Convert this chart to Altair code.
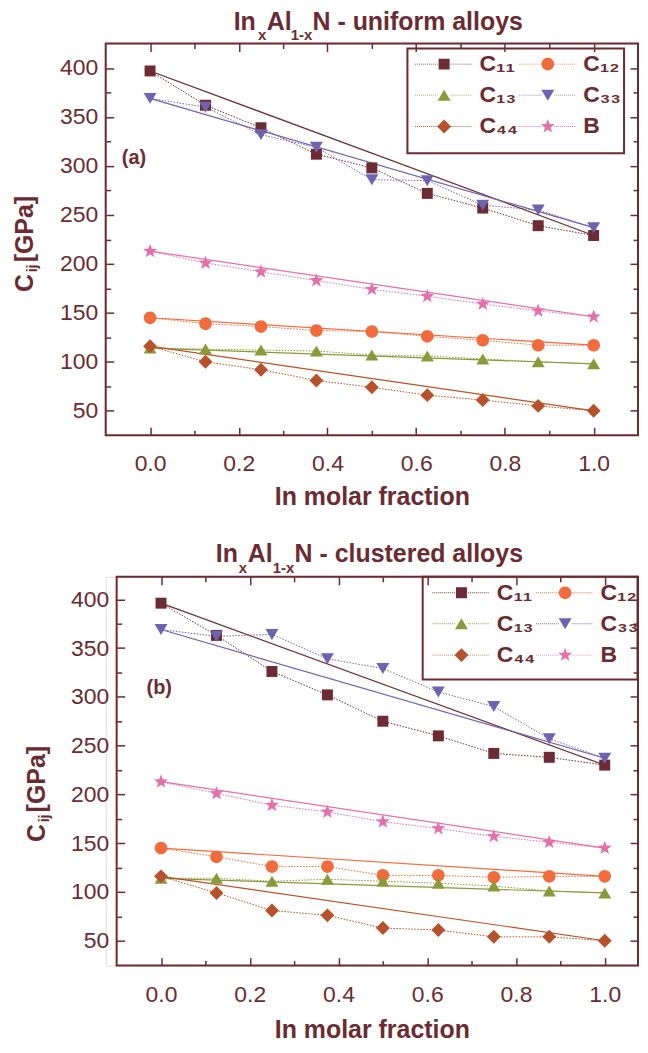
import math
import altair as alt
import pandas as pd

MAROON = "#6b2b32"
FONT = "Liberation Sans"

# ---------------- data ----------------
x_frac = [0.0, 0.125, 0.25, 0.375, 0.5, 0.625, 0.75, 0.875, 1.0]
series_labels = ["C₁₁", "C₁₂", "C₁₃", "C₃₃", "C₄₄", "B"]
series_colors = ["#6d2c33", "#f26b3d", "#8a9a3b", "#6e63b0", "#b6522b", "#e470a9"]

# (a) uniform alloys
u_C11 = [397, 362, 339, 312, 298, 272, 257, 239, 229]
u_C12 = [145, 139, 136, 132, 131, 126, 122, 117, 117]
u_C13 = [114, 113, 112, 111, 107, 106, 103, 100, 98]
u_C33 = [369, 360, 332, 319, 286, 285, 260, 255, 237]
u_C44 = [116, 100, 92, 81, 74, 66, 61, 55, 50]
u_B = [213, 201, 192, 183, 174, 167, 159, 152, 146]

# (b) clustered alloys
c_C11 = [396, 363, 326, 302, 275, 260, 242, 238, 230]
c_C12 = [145, 136, 126, 126, 117, 117, 115, 116, 116]
c_C13 = [114, 114, 111, 113, 111, 109, 106, 101, 99]
c_C33 = [369, 362, 364, 339, 329, 305, 290, 257, 237]
c_C44 = [116, 99, 81, 76, 63, 61, 54, 54, 50]
c_B = [213, 201, 189, 182, 172, 165, 157, 151, 145]

x_major = [0.0, 0.2, 0.4, 0.6, 0.8, 1.0]
x_minor = [0.1, 0.3, 0.5, 0.7, 0.9]
y_major = [50, 100, 150, 200, 250, 300, 350, 400]
y_minor = [75, 125, 175, 225, 275, 325, 375]

# axis frame ranges of the two panels
frame_a_x = [-0.1, 1.1]
frame_a_y = [25, 425]
frame_b_x = [-0.1, 1.075]
frame_b_y = [24.5, 423]


# ---------------- marker shapes ----------------
def poly(pts):
    return "M" + "L".join(f"{px:.3f},{py:.3f}" for px, py in pts) + "Z"


def star(R, r):
    pts = []
    for k in range(10):
        ang = math.radians(-90 + 36 * k)
        rad = R if k % 2 == 0 else r
        pts.append((rad * math.cos(ang), rad * math.sin(ang)))
    return poly(pts)


SQUARE = poly([(-1, -1), (1, -1), (1, 1), (-1, 1)])
CIRCLE = "M1.15,0A1.15,1.15,0,1,1,-1.15,0A1.15,1.15,0,1,1,1.15,0Z"
TRI_UP = poly([(0, -1.0), (1.18, 1.0), (-1.18, 1.0)])
TRI_DOWN = poly([(-1.18, -1.0), (1.18, -1.0), (0, 1.0)])
DIAMOND = poly([(0, -1.27), (1.27, 0), (0, 1.27), (-1.27, 0)])
STAR = star(1.35, 0.55)
marker_paths = [SQUARE, CIRCLE, TRI_UP, TRI_DOWN, DIAMOND, STAR]


def dotted_line(half=5.3, step=0.36, w=0.17, t=0.08, gap=1.15):
    parts = []
    xx = -half
    while xx <= half - w + 1e-9:
        if abs(xx + w / 2) > gap:
            parts.append(f"M{xx:.3f},{-t:.3f}h{w:.3f}v{2*t:.3f}h{-w:.3f}Z")
        xx += step
    return "".join(parts)


DOTS = dotted_line()
legend_paths = [DOTS + p for p in marker_paths]

one = pd.DataFrame({"k": [0]})


def tick_axis(orient, values, size, labels=False, shift=0, **kw):
    base = dict(orient=orient, values=values, offset=-(size + shift), tickSize=size,
                tickWidth=1.5, tickColor=MAROON, domain=False, grid=False,
                labels=labels, title=None)
    base.update(kw)
    return alt.Axis(**base)


def txt(text, x, y, size, angle=0, weight="bold"):
    kw = dict(text=text, font=FONT, fontSize=size, fontWeight=weight,
              color=MAROON, align="left", baseline="alphabetic")
    if angle:
        kw["angle"] = angle
    return alt.Chart(one).mark_text(**kw).encode(x=alt.value(x), y=alt.value(y))


def build_panel(vals, xdom, ydom, fx_rng, fy_rng, W, H, P):
    rows = []
    for lab, ys in zip(series_labels, vals):
        for xv, yv in zip(x_frac, ys):
            rows.append({"x": xv, "value": yv, "series": lab})
    df = pd.DataFrame(rows)
    xs = alt.Scale(domain=xdom, nice=False, zero=False)
    ysc = alt.Scale(domain=ydom, nice=False, zero=False)
    cs = alt.Scale(domain=series_labels, range=series_colors)
    base = alt.Chart(df)
    sh = P["lshift"]

    lab_kw = dict(labelFont=FONT, labelFontSize=23, labelColor=MAROON,
                  labelFontWeight="normal", labelFlush=False, labelOverlap=False)
    x_main = tick_axis("bottom", x_major, 8, labels=True, format=".1f",
                       labelPadding=P["xlp"], title="In molar fraction",
                       titleFont=FONT, titleFontSize=25, titleFontWeight="bold",
                       titleColor=MAROON, titlePadding=P["xtp"], **lab_kw)
    y_main = tick_axis("left", y_major, 8, labels=True, shift=sh, labelPadding=8, **lab_kw)

    dotted = base.mark_line(strokeWidth=1, strokeDash=[1.5, 1.5]).encode(
        x=alt.X("x:Q", scale=xs, axis=x_main),
        y=alt.Y("value:Q", scale=ysc, axis=y_main),
        color=alt.Color("series:N", scale=cs, legend=None),
    )
    vegard = base.transform_filter("datum.x == 0 || datum.x == 1").mark_line(
        strokeWidth=1.2).encode(
        x=alt.X("x:Q", scale=xs, axis=tick_axis("bottom", x_minor, 5)),
        y=alt.Y("value:Q", scale=ysc, axis=tick_axis("left", y_minor, 5, shift=sh)),
        color=alt.Color("series:N", scale=cs, legend=None),
    )
    points = base.mark_point(filled=True, opacity=1, size=121, strokeWidth=0).encode(
        x=alt.X("x:Q", scale=xs, axis=tick_axis("top", x_major, 8)),
        y=alt.Y("value:Q", scale=ysc, axis=tick_axis("right", y_major, 8)),
        color=alt.Color("series:N", scale=cs, legend=None),
        shape=alt.Shape("series:N", scale=alt.Scale(domain=series_labels, range=marker_paths),
                        legend=None),
    )
    leg = alt.Legend(
        title=None, orient="none", legendX=P["lx"], legendY=P["ly"], columns=2,
        direction="horizontal",
        symbolSize=121, symbolStrokeWidth=0, symbolOffset=18,
        labelFont=FONT, labelFontSize=23, labelFontWeight="bold", labelColor=MAROON,
        labelOffset=24, rowPadding=7.4, columnPadding=-6.5, padding=0,
        labelBaseline="middle", labelLimit=200,
    )
    legend_layer = base.transform_filter("datum.x > 5").mark_point(
        filled=True, opacity=1, size=121).encode(
        x=alt.X("x:Q", scale=xs, axis=tick_axis("top", x_minor, 5)),
        y=alt.Y("value:Q", scale=ysc, axis=tick_axis("right", y_minor, 5)),
        color=alt.Color("series:N", scale=cs, legend=leg),
        shape=alt.Shape("series:N", scale=alt.Scale(domain=series_labels, range=legend_paths),
                        legend=leg),
    )
    # plot frame, placed through the scales
    fdf = pd.DataFrame({"x0": [fx_rng[0]], "x1": [fx_rng[1]],
                        "y0": [fy_rng[0]], "y1": [fy_rng[1]]})
    plot_frame = alt.Chart(fdf).mark_rect(fill="transparent", stroke=MAROON,
                                          strokeWidth=2).encode(
        x=alt.X("x0:Q", scale=xs, axis=None), x2="x1:Q",
        y=alt.Y("y0:Q", scale=ysc, axis=None), y2="y1:Q",
    )
    # legend box
    frame = alt.Chart(one).mark_rect(fill="transparent", stroke=MAROON, strokeWidth=2).encode(
        x=alt.value(P["fx"][0]), x2=alt.value(P["fx"][1]),
        y=alt.value(P["fy"][0]), y2=alt.value(P["fy"][1]),
    )
    spacer = alt.Chart(one).mark_text(text=" ", opacity=0, fontSize=10, align="left").encode(
        x=alt.value(-97), y=alt.value(200))

    texts = []
    for s, xx, sub in P["title"]:
        if sub:
            texts.append(txt(s, xx, P["tsub"], 15))
        else:
            texts.append(txt(s, xx, P["tbase"], 25))
    yt = P["ytitle"]
    texts.append(txt("C", yt["bx"], yt["c"], 25, angle=270))
    texts.append(txt("ij", yt["bx"] + 4.5, yt["ij"], 14, angle=270))
    texts.append(txt("[GPa]", yt["bx"], yt["gpa"], 25, angle=270))
    texts.append(txt(P["plabel"], P["plx"], P["ply"], 20))

    return alt.layer(plot_frame, dotted, vegard, points, legend_layer, frame, spacer,
                     *texts).properties(width=W, height=H).resolve_scale(
        color="independent", shape="independent").resolve_axis(
        x="independent", y="independent")


Pa = dict(
    lshift=0, xlp=17.0, xtp=9,
    lx=310, ly=8.9, fx=(302.7, 520), fy=(5, 110),
    tbase=-13.2, tsub=-3.2,
    title=[("In", 128.4, False), ("x", 152.8, True), ("Al", 161.5, False),
           ("1-x", 185.7, True), ("N - uniform alloys", 207.5, False)],
    ytitle=dict(bx=-73, c=249.2, ij=229.5, gpa=219.5),
    plabel="(a)", plx=16.2, ply=120.8,
)
Pb = dict(
    lshift=11, xlp=18.0, xtp=11.5,
    lx=327.4, ly=4.2, fx=(318, 533.5), fy=(0, 103),
    tbase=-14.6, tsub=-3.5,
    title=[("In", 110.5, False), ("x", 133.5, True), ("Al", 142.5, False),
           ("1-x", 167.5, True), ("N - clustered alloys", 189.5, False)],
    ytitle=dict(bx=-61, c=266, ij=246.3, gpa=236.3),
    plabel="(b)", plx=41, ply=117.3,
)

panel_a = build_panel([u_C11, u_C12, u_C13, u_C33, u_C44, u_B],
                      [-0.1, 1.1], [25, 425], frame_a_x, frame_a_y, 534, 393, Pa)
panel_b = build_panel([c_C11, c_C12, c_C13, c_C33, c_C44, c_B],
                      [-0.1247, 1.075], [24.5, 423], frame_b_x, frame_b_y, 534, 390, Pb)

chart = alt.vconcat(panel_a, panel_b, spacing=31).properties(
    padding={"left": 0, "top": 0, "right": 0, "bottom": 0}
).configure_view(strokeWidth=0).configure(font=FONT)

chart.save("out.html", embed_options={"renderer": "svg", "actions": False})
